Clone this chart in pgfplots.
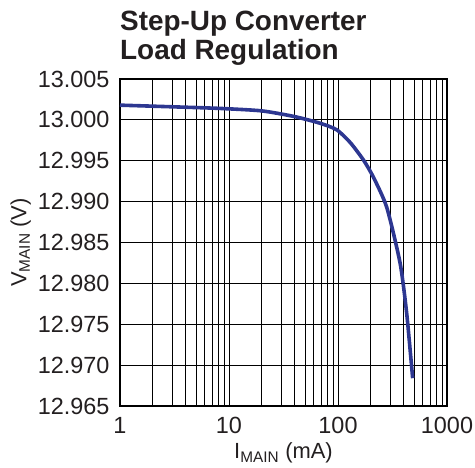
\documentclass[border=0pt]{standalone}
\usepackage{fontspec}
\setmainfont{Liberation Sans}
\usepackage{pgfplots}
\pgfplotsset{compat=1.18}
\definecolor{curve}{RGB}{45,55,145}
\definecolor{txt}{RGB}{35,31,32}
\begin{document}
\begin{tikzpicture}
\begin{axis}[
  name=ax,
  xmode=log,
  scale only axis,
  width=327bp, height=327bp,
  xmin=1, xmax=1000,
  ymin=12.965, ymax=13.005,
  ytick={12.965,12.970,...,13.006},
  xtick={1,10,100,1000},
  xticklabels={1,10,100,1000},
  minor xtick={2,3,4,5,6,7,8,9,20,30,40,50,60,70,80,90,200,300,400,500,600,700,800,900},
  xmajorgrids, xminorgrids, ymajorgrids,
  grid style={black, line width=0.9bp},
  minor grid style={black, line width=0.9bp},
  axis line style={black, line width=1.8bp},
  major tick length=0pt, minor tick length=0pt,
  tick label style={font=\fontsize{23.5}{26}\selectfont, text=txt},
  /pgf/number format/.cd, fixed, fixed zerofill, precision=3, assume math mode=true,
  /pgfplots/.cd,
  yticklabel style={xshift=-7bp},
  xticklabel style={yshift=-8bp},
  xlabel={I\textsubscript{MAIN} (mA)},
  ylabel={V\textsubscript{MAIN} (V)},
  label style={font=\fontsize{22}{26}\selectfont, text=txt},
  xlabel style={yshift=-2bp},
  ylabel style={yshift=0bp},
  clip mode=individual,
]
\addplot[curve, line width=3.6bp, smooth, tension=0.4] coordinates {
(1,13.0018) (3,13.0016) (8.3,13.0014) (20,13.0011) (40,13.0004) (68,12.9996)
(97,12.9988) (130,12.9972) (171,12.9951) (211,12.9930) (280,12.9893)
(371,12.9825) (427,12.9763) (484,12.9684)
};
\node[anchor=base west, font=\fontsize{28}{30}\selectfont\bfseries, text=txt, inner sep=0pt] at ([yshift=48bp]rel axis cs:0,1) {Step-Up Converter};
\node[anchor=base west, font=\fontsize{28}{30}\selectfont\bfseries, text=txt, inner sep=0pt] at ([yshift=19bp]rel axis cs:0,1) {Load Regulation};
\end{axis}
\pgfresetboundingbox
\path (ax.south west) ++(-120bp,-62bp) rectangle ++(475bp,468bp);
\end{tikzpicture}
\end{document}
